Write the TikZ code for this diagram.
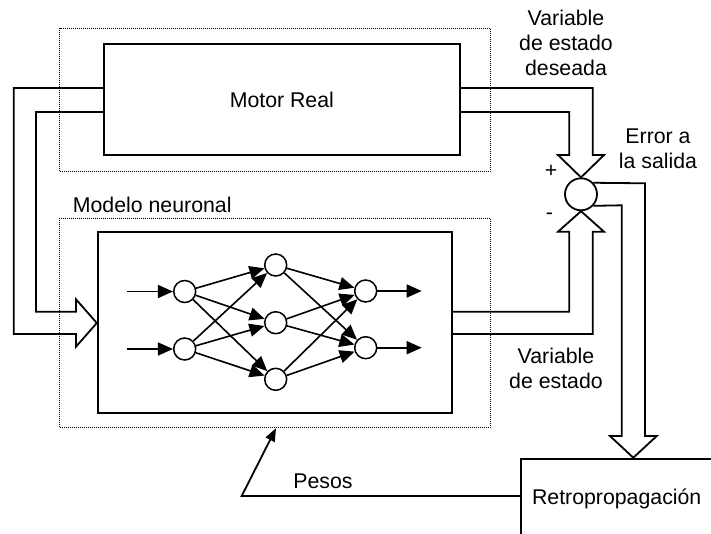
\documentclass[tikz,border=0pt]{standalone}
\usepackage{fontspec}
\setmainfont{Liberation Sans}
\usetikzlibrary{arrows.meta,calc}
\begin{document}
\begin{tikzpicture}[x=1pt,y=-1pt,
  every node/.style={font=\fontsize{21.3}{25}\selectfont, inner sep=0pt},
  thick line/.style={line width=1.8pt},
  solidbox/.style={draw, rectangle, thick line, minimum width=#1},
  frame/.style={draw, rectangle, line width=1pt, dash pattern=on 1pt off 1pt},
  neuron/.style={draw, circle, line width=1.5pt, minimum size=22pt, fill=white},
  hollow/.style={thick line, line join=miter},
  syn/.style={line width=1.6pt, -{Triangle[length=15pt,width=13pt]}},
  lbl/.style={anchor=base, align=center}]

\useasboundingbox (0,0) rectangle (711,533);
\clip (0,0) rectangle (711,533);

% dotted enclosures
\node[frame, minimum width=430.3pt, minimum height=143.7pt] (plantframe) at (274.85,99.85) {};
\node[frame, minimum width=430.3pt, minimum height=209.4pt] (modelframe) at (274.85,323) {};
\node[anchor=base west] (modellbl) at (72.7,212.7) {Modelo neuronal};

% main blocks
\node[solidbox=356.3pt, minimum height=111.6pt] (motor) at (281.85,99.5) {Motor Real};
\node[solidbox=354.3pt, minimum height=181pt] (model) at (274.85,322.8) {};
\node[solidbox=240pt, minimum height=102.3pt, anchor=north west] (retro) at (520,457.7) {};
\node[anchor=base] (retrolbl) at (616.7,504) {Retropropagación};

% summing junction
\node[draw, circle, thick line, minimum size=32pt] (cmp) at (581,194.3) {};
\node (plus) at (551,171.7) {+};
\node (minus) at (549.3,216) {-};

% hollow arrow: plant output to junction
\draw[hollow] (motor.east |- 0,88) -- (592.7,88) -- (592.7,155) -- (604,155)
  -- (cmp.north) -- (558,155) -- (569.3,155) -- (569.3,112) -- (motor.east |- 0,112);

% hollow arrow: model output to junction
\draw[hollow] (model.east |- 0,334) -- (592.7,334) -- (592.7,231.7) -- (604,231.7)
  -- (cmp.south) -- (558,231.7) -- (569.3,231.7) -- (569.3,311.7) -- (model.east |- 0,311.7);

% hollow arrow: error to backpropagation
\draw[hollow] (cmp.43) -- (645,183.3) -- (645,436) -- (656.7,436)
  -- (633.3,457.7) -- (610,436) -- (621.7,436) -- (621.7,205.3) -- (cmp.-43);

% hollow arrow: plant input fed to the model
\draw[hollow] (motor.west |- 0,88) -- (13.7,88) -- (13.7,334) -- (76,334) -- (76,346.7)
  -- (model.west |- 0,323) -- (76,299.3) -- (76,311.7) -- (36,311.7) -- (36,112)
  -- (motor.west |- 0,112);

% weight update
\coordinate (pesosbend) at (241.7,496);
\draw[thick line, -{Triangle[length=13pt,width=10pt]}] (retro.west |- 0,496) -- (pesosbend)
  -- (modelframe.south -| 276,0);
\node[anchor=base] (pesoslbl) at (323,488.3) {Pesos};

% labels (base anchor sits on the last line)
\node[lbl] (deseada) at (566,75) {Variable\\de estado\\deseada};
\node[lbl] (errlbl) at (658,168.3) {Error a\\la salida};
\node[lbl] (estado) at (556,388.3) {Variable\\de estado};

% neural network
\node[neuron] (i1) at (184.7,291.5) {};
\node[neuron] (i2) at (184.7,349) {};
\node[neuron] (h1) at (275.7,265) {};
\node[neuron] (h2) at (275.7,322.7) {};
\node[neuron] (h3) at (275.7,379.3) {};
\node[neuron] (o1) at (365.7,291) {};
\node[neuron] (o2) at (365.7,347.7) {};
\coordinate (in1) at (127.3,291.5);
\coordinate (in2) at (127.3,349);
\coordinate (out1) at (421.7,291);
\coordinate (out2) at (421.7,347.7);

\draw[syn] (in1) -- (i1);
\draw[syn] (in2) -- (i2);
\foreach \a in {i1,i2}
  \foreach \b in {h1,h2,h3}
    \draw[syn] (\a) -- (\b);
\foreach \a in {h1,h2,h3}
  \foreach \b in {o1,o2}
    \draw[syn] (\a) -- (\b);
\draw[syn] (o1) -- (out1);
\draw[syn] (o2) -- (out2);
\end{tikzpicture}
\end{document}
